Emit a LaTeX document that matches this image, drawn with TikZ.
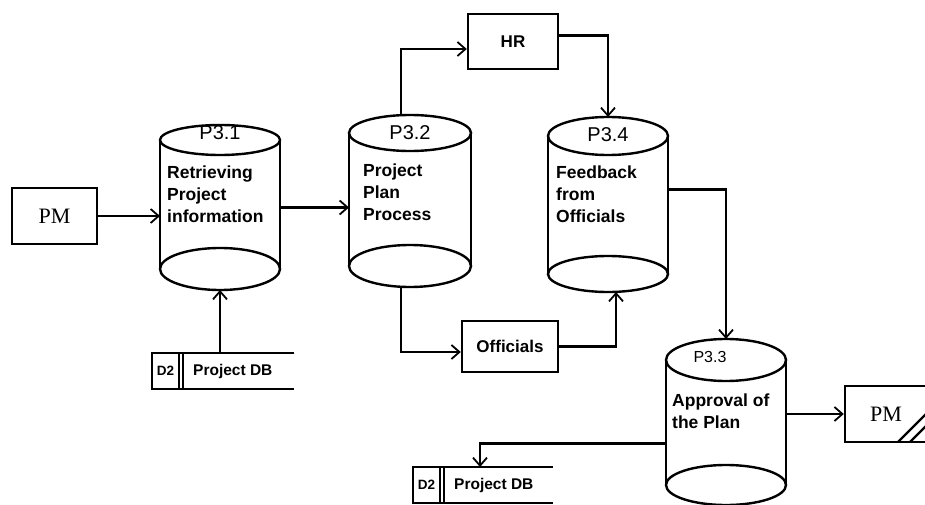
\documentclass[tikz,border=0pt]{standalone}
\usepackage{fontspec}
\setmainfont{Liberation Sans}
\newfontfamily\pmfont{Liberation Serif}
\usetikzlibrary{arrows.meta,calc}
\tikzset{
  ln/.style={line width=2.4pt},
  flow/.style={line width=2.4pt, -{Straight Barb[length=8pt,width=14pt,line width=1.8pt]}},
  ent/.style={draw, line width=2.4pt, inner sep=0pt, font=\pmfont\fontsize{22}{24}\selectfont},
  procbox/.style={draw, line width=2.4pt, inner sep=0pt, font=\bfseries\fontsize{17}{20}\selectfont},
  lbl/.style={font=\bfseries\fontsize{17.5}{22}\selectfont, align=left, inner sep=0pt, anchor=west},
  pid/.style={font=\fontsize{20}{22}\selectfont, inner sep=0pt},
  storebox/.style={inner sep=0pt, outer sep=0pt},
  storeid/.style={font=\bfseries\fontsize{13.5}{15}\selectfont, inner sep=0pt},
  storename/.style={font=\bfseries\fontsize{15.5}{18}\selectfont, inner sep=0pt, anchor=west},
}
% name, cx, top cy, top ry, bottom cy, bottom ry, rx
\newcommand\dfdcyl[7]{%
  \node[inner sep=0pt, outer sep=0pt, minimum width={2*#7pt},
        minimum height={(#5+#6-#3+#4)*1pt}] (#1) at ({#2},{(#3-#4+#5+#6)/2}) {};
  \draw[ln] (#2,#3) ellipse [x radius=#7pt, y radius=#4pt];
  \draw[ln] (#2,#5) ellipse [x radius=#7pt, y radius=#6pt];
  \draw[ln] ({#2-#7},#3) -- ({#2-#7},#5);
  \draw[ln] ({#2+#7},#3) -- ({#2+#7},#5);
}
\newcommand\dfdstore[5]{% name, left, top, right, bottom
  \node[storebox, minimum width={(#4-#2)*1pt}, minimum height={(#5-#3)*1pt}]
     (#1) at ({(#2+#4)/2},{(#3+#5)/2}) {};
  \draw[ln] (#1.north east) -- (#1.north west) -- (#1.south west) -- (#1.south east);
  \draw[ln] ($(#1.north west)+(27,0)$) -- ($(#1.south west)+(27,0)$);
  \draw[ln] ($(#1.north west)+(31,0)$) -- ($(#1.south west)+(31,0)$);
  \node[storeid] (#1id) at ($(#1.west)+(13.5,0)$) {D2};
  \node[storename] (#1name) at ($(#1.west)+(41,0)$) {Project DB};
}
\begin{document}
\begin{tikzpicture}[x=1pt,y=-1pt]
\useasboundingbox (0,0) rectangle (925,505);
\fill[white] (0,0) rectangle (925,505);

% external entities and boxes
\node[ent, minimum width=85pt, minimum height=56pt] (pm1) at (54.5,216) {PM};
\node[procbox, minimum width=90pt, minimum height=55pt] (hr) at (513,41.5) {HR};
\node[procbox, minimum width=96pt, minimum height=51pt] (off) at (510,346.5) {Officials};
\node[ent, minimum width=82pt, minimum height=56pt] (pm2) at (886,414) {PM};
\draw[ln] (898,442) -- (928,412);
\draw[ln] (910,442) -- (928,424);

% processes
\dfdcyl{p31}{220}{140}{15}{269}{21}{60}
\dfdcyl{p32}{410}{133}{18}{266}{21}{61}
\dfdcyl{p34}{608}{136}{19}{274}{18}{60}
\dfdcyl{p33}{726}{360}{21}{485}{20}{60}

\node[pid] (p31id) at (220,133) {P3.1};
\node[lbl] (p31t) at (167,194) {Retrieving\\Project\\information};
\node[pid] (p32id) at (410,133) {P3.2};
\node[lbl] (p32t) at (363,192) {Project\\Plan\\Process};
\node[pid] (p34id) at (608,135) {P3.4};
\node[lbl] (p34t) at (556,194) {Feedback\\from\\Officials};
\node[pid, font=\fontsize{16}{18}\selectfont] (p33id) at (710,357) {P3.3};
\node[lbl] (p33t) at (672,411) {Approval of\\the Plan};

% data stores
\dfdstore{s1}{152}{353}{294}{389}
\dfdstore{s2}{413}{467}{553}{503}

% flows
\draw[flow] (pm1.east) -- (pm1.east -| p31.west);
\draw[flow] (p31.south |- s1.north) -- (p31.south);
\draw[flow] (p31.east) -- (p31.east -| p32.west);
\draw[flow] ([xshift=-9pt]p32.north) |- ([yshift=-7.5pt]hr.west);
\draw[flow] ([yshift=6pt]hr.east) -| (p34.north);
\draw[flow] ([xshift=-9pt]p32.south) |- ([yshift=-5.5pt]off.west);
\draw[flow] (off.east) -| ([xshift=8pt]p34.south);
\draw[flow] ([yshift=15pt]p34.east) -| (p33.north);
\draw[flow] (pm2.west -| p33.east) -- (pm2.west);
\draw[flow] ([yshift=-21.5pt]p33.west) -| ([xshift=-3pt]s2.north);
\end{tikzpicture}
\end{document}
